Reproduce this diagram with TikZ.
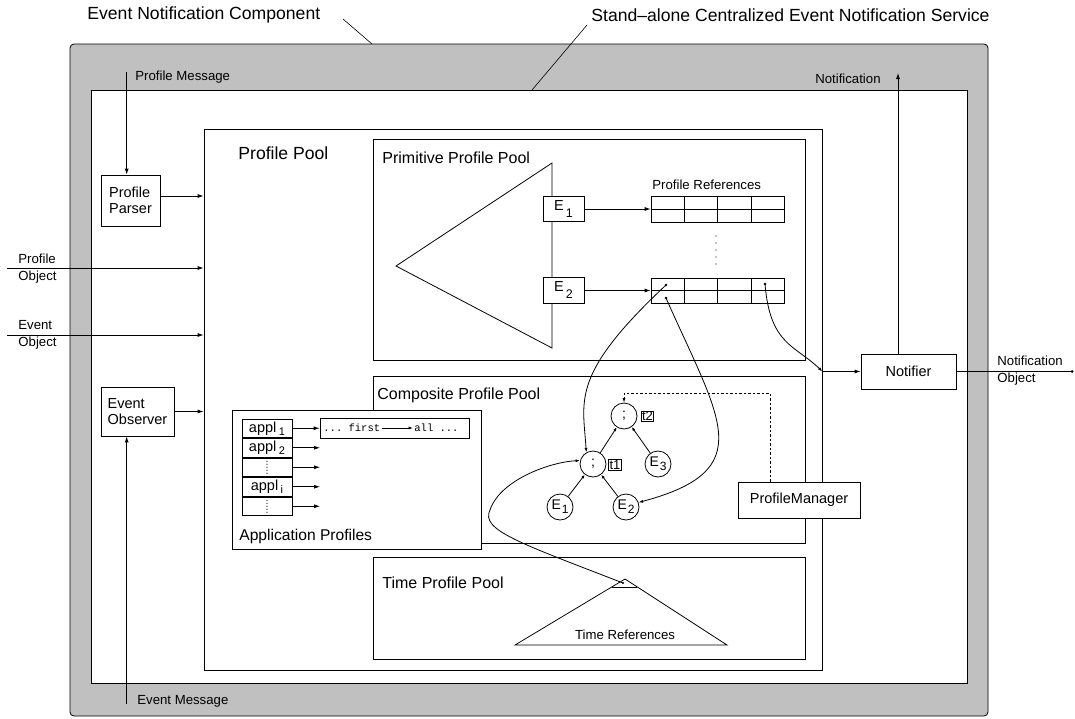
\documentclass[tikz,border=0pt]{standalone}
\usepackage{fontspec}
\setmainfont{Liberation Sans}
\setmonofont{Liberation Mono}
\usetikzlibrary{arrows.meta,calc}

\definecolor{bandgray}{RGB}{192,192,192}

% event labels with a lowered index
\newcommand\boxE[1]{E\kern2pt\raisebox{-7pt}{\fontsize{12.5}{12.5}\selectfont #1}}
\newcommand\circE[1]{E\kern1pt\raisebox{-4pt}{\fontsize{12}{12}\selectfont #1}}
\newcommand\applsub[1]{appl\kern2.5pt\raisebox{-3pt}{\fontsize{11}{11}\selectfont #1}}

\tikzset{
  plainbox/.style={draw, fill=white, inner sep=0pt},
  lbl/.style={inner sep=0pt, font=\fontsize{13.2}{17}\selectfont},
  titletext/.style={inner sep=0pt, font=\fontsize{17.6}{20}\selectfont},
  pooltext/.style={inner sep=0pt, font=\fontsize{16}{19}\selectfont},
  apptext/.style={inner sep=0pt, font=\fontsize{15.6}{18}\selectfont},
  compbox/.style={draw, fill=white, inner sep=0pt, align=left,
    font=\fontsize{14.5}{16.5}\selectfont},
  ebox/.style={draw, fill=white, inner sep=0pt, minimum width=41pt,
    minimum height=25.5pt, font=\fontsize{14.5}{16}\selectfont},
  cnode/.style={draw, fill=white, circle, inner sep=0pt, minimum size=26pt,
    font=\fontsize{14}{16}\selectfont},
  tagbox/.style={draw, fill=white, inner sep=0.8pt, font=\fontsize{13}{13}\selectfont},
  applcell/.style={draw, fill=white, inner sep=0pt, minimum width=50pt,
    minimum height=18.5pt, font=\fontsize{14.5}{16}\selectfont},
  mono/.style={inner sep=1pt, font=\fontsize{10.5}{12}\selectfont\ttfamily},
  treearrow/.style={-{Latex[length=4pt,width=3pt]}},
  smallarrow/.style={-{Latex[length=4.5pt,width=3pt]}},
  dotline/.style={dash pattern=on 2.5pt off 2pt},
  lead/.style={line width=0.6pt},
}

\begin{document}
\begin{tikzpicture}[x=1pt,y=-1pt,line width=0.8pt,>={Latex[length=6pt,width=4pt]}]
\useasboundingbox[fill=white] (0,0) rectangle (1075,718);

% component frame and service frame
\node[draw, fill=bandgray, rounded corners=4pt, inner sep=0pt,
      minimum width=918pt, minimum height=672pt] (comp) at (529,380) {};
\node[plainbox, minimum width=876pt, minimum height=593pt] (svc) at (529,386.5) {};

% headings and leader lines
\node[titletext, anchor=west] (compname) at (87,15) {Event Notification Component};
\node[titletext, anchor=west] (svcname) at (591,15) {Stand–alone Centralized Event Notification Service};
\coordinate (l1a) at (343,19); \coordinate (l1b) at (372,44);
\coordinate (l2a) at (587,25); \coordinate (l2b) at (532,90);
\draw[lead] (l1a) -- (l1b);
\draw[lead] (l2a) -- (l2b);

% profile pool
\node[plainbox, minimum width=618pt, minimum height=541pt] (pool) at (513,399.5) {};
\node[titletext, anchor=west] (pooltitle) at (238,153) {Profile Pool};

% primitive profile pool
\node[plainbox, minimum width=432pt, minimum height=221pt] (prim) at (589,249.5) {};
\node[pooltext, anchor=west] (primtitle) at (382,158) {Primitive Profile Pool};
\draw (396,266) -- (552,163) -- (552,348) -- cycle;
\node[ebox] (pe1) at (563.5,209) {\boxE{1}};
\node[ebox] (pe2) at (563.5,290.5) {\boxE{2}};

\node[lbl, anchor=west] (reftitle) at (652,185) {Profile References};
\node[plainbox, minimum width=133pt, minimum height=26pt] (ref1) at (717.5,209) {};
\node[plainbox, minimum width=133pt, minimum height=25pt] (ref2) at (717.5,290.5) {};
\foreach \r in {ref1,ref2}{
  \draw (\r.west) -- (\r.east);
  \foreach \k in {1,2,3}
    \draw ($(\r.north west)!\k/4!(\r.north east)$) -- ($(\r.south west)!\k/4!(\r.south east)$);
}
\foreach \yy in {236,243,250,257,264} \fill (716,\yy) circle (0.7pt);
\draw[->] (pe1.east) -- (pe1.east -| ref1.west);
\draw[->] (pe2.east) -- (pe2.east -| ref2.west);
\coordinate (c1) at (666,285);
\coordinate (c2) at (666,298);
\coordinate (c3) at (765,284);
\foreach \c in {c1,c2,c3} \fill (\c) circle (1.3pt);

% composite profile pool
\node[plainbox, minimum width=432pt, minimum height=167pt] (comppool) at (589,459.5) {};
\node[pooltext, anchor=west] (comptitle) at (377,395) {Composite Profile Pool};

% application profiles
\node[plainbox, minimum width=249pt, minimum height=139pt] (app) at (356.5,479.5) {};
\node[applcell] (a1) at (267,428.25) {\applsub{1}};
\node[applcell] (a2) at (267,447.75) {\applsub{2}};
\node[applcell] (a3) at (267,467.25) {};
\node[applcell] (a4) at (267,486.75) {\applsub{i}};
\node[applcell] (a5) at (267,506.25) {};
\foreach \c in {a3,a5}
  \foreach \d in {-6,-3,0,3,6}
    \fill ([yshift=\d pt]\c.center) circle (0.55pt);
\coordinate (aend) at (320,0);
\node[plainbox, minimum width=149pt, minimum height=20pt] (fa) at (394.5,428) {};
\node[mono, anchor=west] (ffirst) at (322,428) {... first};
\node[mono, anchor=west] (fall) at (413,428) {all ...};
\draw[smallarrow] (ffirst.east) -- (fall.west);
\draw[->] (a1.east) -- (a1.east -| fa.west);
\foreach \c in {a2,a3,a4,a5} \draw[->] (\c.east) -- (\c.east -| aend);
\node[apptext, anchor=west] (apptitle) at (239,536) {Application Profiles};

% time profile pool
\node[plainbox, minimum width=432pt, minimum height=102pt] (timepool) at (589,608) {};
\node[pooltext, anchor=west] (timetitle) at (382,583) {Time Profile Pool};
\draw (625,579) -- (727,645) -- (515,645) -- cycle;
\draw (611.7,587) -- (637.4,587);
\coordinate (tref) at (623,583);
\fill (tref) circle (1.2pt);
\node[lbl] (treftext) at (625,635) {Time References};

% composite expression tree
\node[cnode] (t2) at (624,416) {;};
\node[cnode] (t1) at (593,464) {;};
\node[cnode] (e3) at (658,464) {\circE{3}};
\node[cnode] (e1) at (560,507) {\circE{1}};
\node[cnode] (e2) at (626,507) {\circE{2}};
\node[tagbox] (t2tag) at (647.5,416.5) {t2};
\node[tagbox] (t1tag) at (615,465) {t1};
\draw[treearrow] (e1) -- (t1);
\draw[treearrow] (e2) -- (t1);
\draw[treearrow] (t1) -- (t2);
\draw[treearrow] (e3) -- (t2);

% profile manager
\node[compbox, align=center, minimum width=122pt, minimum height=36pt] (pmgr) at (799,500) {ProfileManager};
\coordinate (dcorner) at (770,393);
\draw[dotline, smallarrow] (dcorner |- pmgr.north) -- (dcorner) -| (t2.north);

% side components
\node[compbox, minimum width=59pt, minimum height=51pt] (parser) at (130.5,200.5) {Profile\\Parser};
\node[compbox, minimum width=73pt, minimum height=49pt] (observer) at (137.5,411.5) {Event\\Observer};
\node[compbox, align=center, minimum width=95pt, minimum height=35pt] (notifier) at (908.5,371.5) {Notifier};

% inputs
\coordinate (pmsg) at (126.7,72);
\draw[->] (pmsg) -- (pmsg |- parser.north);
\node[lbl, anchor=west] (pmsgtext) at (135,77) {Profile Message};
\coordinate (pin) at ([yshift=4.5pt]parser.east);
\draw[->] (pin) -- (pin -| pool.west);

\coordinate (poin) at (7,268);
\draw[->] (poin) -- (poin -| pool.west);
\node[lbl, anchor=west, align=left] (potext) at (18,268.5) {Profile\\Object};
\coordinate (eoin) at (7,335);
\draw[->] (eoin) -- (eoin -| pool.west);
\node[lbl, anchor=west, align=left] (eotext) at (18,335) {Event\\Object};

\draw[->] (observer.east) -- (observer.east -| pool.west);
\coordinate (emsg) at (126.7,704);
\draw[->] (emsg) -- (emsg |- observer.south);
\node[lbl, anchor=west] (emsgtext) at (137,701) {Event Message};

% outputs
\coordinate (nin) at (pool.east |- notifier.west);
\draw[->] (nin) -- (notifier.west);
\coordinate (nout) at (1072,371.5);
\draw (notifier.east) -- (nout);
\fill (nout) circle (1.5pt);
\node[lbl, anchor=west, align=left] (notext) at (997,370.5) {Notification\\Object};
\coordinate (ntop) at (898,73);
\draw[->] (ntop |- notifier.north) -- (ntop);
\node[lbl, anchor=east] (ntext) at (881,79) {Notification};

% reference links
\draw[smallarrow] (c1) .. controls (570,375) and (583,400) .. (t1.120);
\draw[smallarrow] (c2) .. controls (720,420) and (760,470) .. (e2.20);
\draw[smallarrow] (c3) .. controls (770,345) and (795,345) .. (nin);
\draw[smallarrow] (tref) .. controls (520,543) and (480,530) .. (490,510)
  .. controls (500,480) and (550,462) .. (t1.165);
\end{tikzpicture}
\end{document}
